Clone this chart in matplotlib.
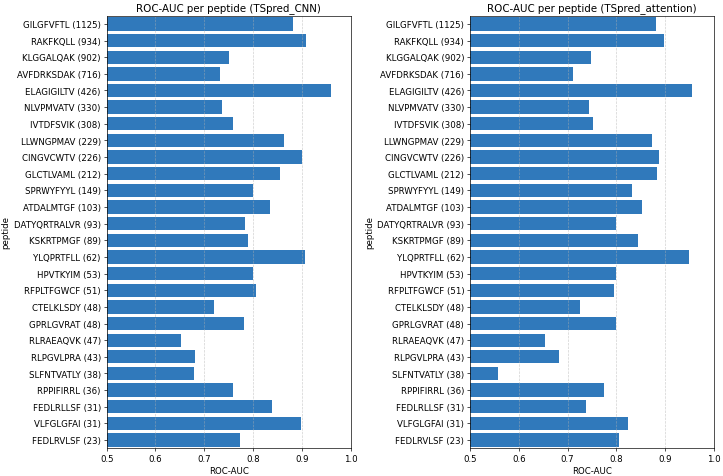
import matplotlib
matplotlib.use("Agg")
import matplotlib.pyplot as plt
import numpy as np

# peptides with number of samples, top to bottom
peptides = ["GILGFVFTL (1125)", "RAKFKQLL (934)", "KLGGALQAK (902)", "AVFDRKSDAK (716)",
            "ELAGIGILTV (426)", "NLVPMVATV (330)", "IVTDFSVIK (308)", "LLWNGPMAV (229)",
            "CINGVCWTV (226)", "GLCTLVAML (212)", "SPRWYFYYL (149)", "ATDALMTGF (103)",
            "DATYQRTRALVR (93)", "KSKRTPMGF (89)", "YLQPRTFLL (62)", "HPVTKYIM (53)",
            "RFPLTFGWCF (51)", "CTELKLSDY (48)", "GPRLGVRAT (48)", "RLRAEAQVK (47)",
            "RLPGVLPRA (43)", "SLFNTVATLY (38)", "RPPIFIRRL (36)", "FEDLRLLSF (31)",
            "VLFGLGFAI (31)", "FEDLRVLSF (23)"]

auc_cnn = [0.882, 0.909, 0.751, 0.733, 0.960, 0.736, 0.758, 0.864, 0.900, 0.855,
           0.801, 0.834, 0.784, 0.790, 0.906, 0.799, 0.807, 0.719, 0.782, 0.652,
           0.682, 0.679, 0.758, 0.839, 0.899, 0.773]

auc_attention = [0.882, 0.898, 0.749, 0.712, 0.955, 0.745, 0.753, 0.874, 0.887, 0.883,
                 0.832, 0.853, 0.799, 0.845, 0.949, 0.800, 0.795, 0.725, 0.799, 0.654,
                 0.682, 0.558, 0.775, 0.738, 0.825, 0.805]

model_names = ["TSpred_CNN", "TSpred_attention"]

plt.rcParams['font.size'] = 10.3

fig, axes = plt.subplots(1, 2, figsize=(12, 7.9), dpi=60.33)
fig.subplots_adjust(left=0.1474, right=0.986, top=0.966, bottom=0.058, wspace=0.49)

for ax, vals, name in zip(axes, [auc_cnn, auc_attention], model_names):
    y = np.arange(len(peptides))
    ax.barh(y, vals, height=0.8, color='#3079bb')
    ax.set_yticks(y)
    ax.set_yticklabels(peptides)
    ax.set_ylim(len(peptides) - 0.5, -0.5)
    ax.set_xlim(0.5, 1.0)
    ax.set_xlabel('ROC-AUC')
    ax.set_ylabel('peptide')
    ax.set_title(f'ROC-AUC per peptide ({name})', fontsize=12.3)
    ax.grid(axis='x', linestyle='--', alpha=0.6)

fig.savefig('out.png', dpi=60.33)
